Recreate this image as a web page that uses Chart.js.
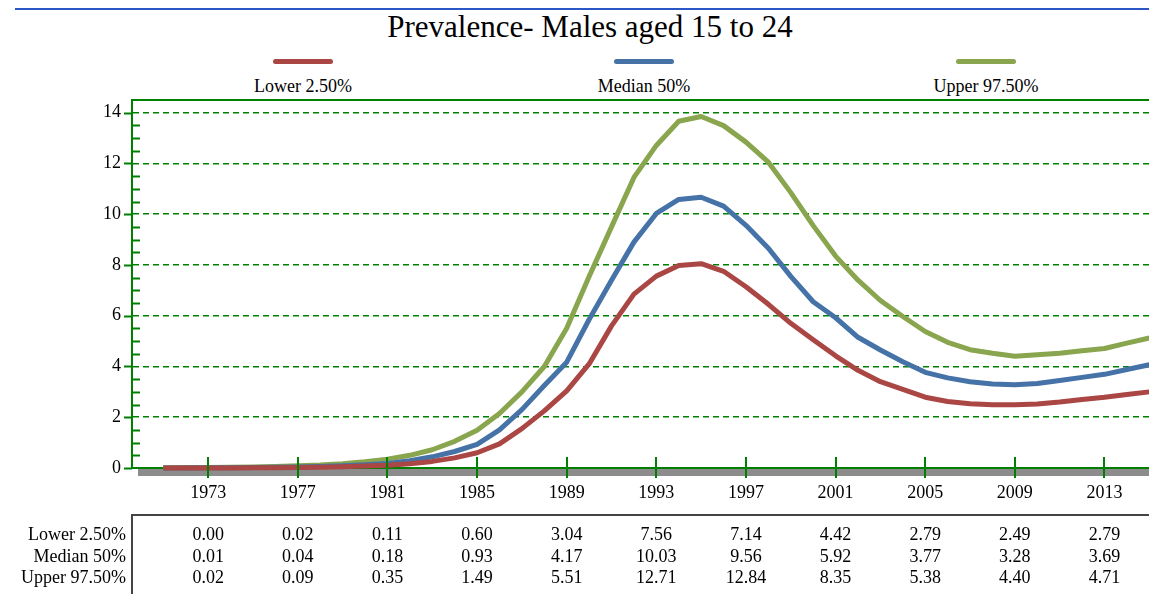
<!DOCTYPE html><html>
<meta charset="UTF-8">
<script src="https://cdn.jsdelivr.net/npm/chart.js@4/dist/chart.umd.min.js"></script>
<style>
html,body{margin:0;padding:0;overflow:hidden;background:#fff;}
#wrap{position:relative;width:1180px;height:594px;font-family:"Liberation Serif",serif;color:#000;}
#wrap canvas{position:absolute;left:0;top:0;}
#topline{position:absolute;left:15px;top:8px;width:1165px;border-top:2px solid #2a56c6;}
#title{position:absolute;left:0;width:1180px;top:10px;text-align:center;font-size:31px;line-height:34px;}
.leg{position:absolute;top:59px;width:200px;text-align:center;font-size:18px;line-height:20px;}
.leg i{display:block;margin:0 auto 12px;width:60px;height:5px;border-radius:3px;}
.cell{position:absolute;font-size:18px;line-height:21px;white-space:nowrap;}
#tbl{position:absolute;left:131px;top:514px;width:1100px;height:100px;border-top:2px solid #444;border-left:2px solid #444;}
</style>
<div id="wrap">
<div id="topline"></div>
<div id="title">Prevalence- Males aged 15 to 24</div>
<div id="legend"></div>
<canvas id="c" width="1180" height="594"></canvas>
<div id="tbl"></div>
</div>
<script>
var years = [];
for (var y = 1971; y <= 2015; y++) years.push(y);
var tickYears = [1973,1977,1981,1985,1989,1993,1997,2001,2005,2009,2013];
var seriesNames = ['Lower 2.50%','Median 50%','Upper 97.50%'];
var seriesColors = ['#AA4643','#4572A7','#89A54E'];

var lower = [0.00,0.00,0.00,0.00,0.01,0.01,0.02,0.03,0.05,0.08,
  0.11,0.17,0.26,0.40,0.60,0.95,1.55,2.25,3.04,4.10,
  5.60,6.85,7.56,7.98,8.05,7.75,7.14,6.45,5.70,5.05,
  4.42,3.85,3.40,3.10,2.79,2.62,2.53,2.49,2.49,2.52,
  2.60,2.70,2.79,2.90,3.00];
var median = [0.00,0.00,0.01,0.01,0.02,0.03,0.04,0.06,0.09,0.13,
  0.18,0.29,0.44,0.65,0.93,1.50,2.30,3.25,4.17,5.85,
  7.40,8.90,10.03,10.58,10.67,10.32,9.56,8.66,7.55,6.55,
  5.92,5.15,4.65,4.19,3.77,3.55,3.40,3.31,3.28,3.33,
  3.45,3.57,3.69,3.88,4.07];
var upper = [0.01,0.02,0.02,0.03,0.04,0.06,0.09,0.12,0.17,0.25,
  0.35,0.50,0.72,1.05,1.49,2.15,3.00,4.00,5.51,7.55,
  9.50,11.45,12.71,13.66,13.85,13.49,12.84,12.05,10.85,9.55,
  8.35,7.40,6.60,5.97,5.38,4.95,4.66,4.52,4.40,4.46,
  4.52,4.62,4.71,4.92,5.12];
var seriesData = [lower, median, upper];

var GREEN = '#008000';
var font = {family: "'Liberation Serif', serif", size: 18};

// legend: line above the label
var legendCenters = [303, 644, 986];
var legEl = document.getElementById('legend');
seriesNames.forEach(function(n, i){
  var d = document.createElement('div');
  d.className = 'leg';
  d.style.left = (legendCenters[i] - 100) + 'px';
  d.innerHTML = '<i style="background:' + seriesColors[i] + '"></i>' + n;
  legEl.appendChild(d);
});

var decor = {
  id: 'decor',
  beforeDatasetsDraw: function(chart){
    var c = chart.ctx, a = chart.chartArea;
    c.save();
    c.fillStyle = '#8c8c8c';
    c.fillRect(a.left + 6, a.bottom + 1, a.right - a.left, 7);
    c.restore();
  },
  afterDraw: function(chart){
    var c = chart.ctx, a = chart.chartArea, ys = chart.scales.y, xs = chart.scales.x;
    c.save();
    c.strokeStyle = GREEN;
    c.lineWidth = 2;
    c.beginPath();
    c.moveTo(a.left - 1, a.top); c.lineTo(a.right, a.top);
    ys.ticks.forEach(function(t){
      var p = Math.round(ys.getPixelForValue(t.value)) + 0.5;
      if (t.value % 2 === 0) { c.moveTo(a.left - 8, p); c.lineTo(a.left, p); }
      else if (t.value < 14.5) { c.moveTo(a.left, p); c.lineTo(a.left + 8, p); }
    });
    tickYears.forEach(function(v){
      var p = Math.round(xs.getPixelForValue(v));
      c.moveTo(p, a.bottom - 11); c.lineTo(p, a.bottom + 10);
    });
    c.stroke();
    c.restore();
  }
};

var chart = new Chart(document.getElementById('c'), {
  type: 'line',
  data: {
    labels: years,
    datasets: seriesNames.map(function(n, i){
      return {
        label: n,
        data: years.map(function(y, k){ return {x: y, y: seriesData[i][k]}; }),
        borderColor: seriesColors[i],
        backgroundColor: seriesColors[i],
        borderWidth: 5,
        pointRadius: 0,
        tension: 0,
        borderJoinStyle: 'round',
        fill: false,
        clip: false
      };
    })
  },
  options: {
    responsive: false,
    animation: false,
    devicePixelRatio: 1,
    layout: {padding: {left: 0, top: 100, right: 15, bottom: 92}},
    plugins: {legend: {display: false}, title: {display: false}, tooltip: {enabled: false}},
    scales: {
      x: {
        type: 'linear', min: 1969.6, max: 2015.7,
        afterBuildTicks: function(s){ s.ticks = tickYears.map(function(v){ return {value: v}; }); },
        afterFit: function(s){ s.height = 34; },
        ticks: {font: font, color: '#000', padding: 14, autoSkip: false, maxRotation: 0,
          callback: function(v){ return String(v); }},
        grid: {display: false, drawTicks: false},
        border: {display: true, color: GREEN, width: 2}
      },
      y: {
        min: 0, max: 14.5,
        afterFit: function(s){ s.width = 132; },
        ticks: {font: font, color: '#000', padding: 11, stepSize: 0.5, autoSkip: false,
          callback: function(v){ return v % 2 === 0 ? String(v) : ''; }},
        grid: {drawTicks: false, lineWidth: 1.6,
          color: function(ctx){ return ctx.tick && ctx.tick.value > 0 && ctx.tick.value % 2 === 0 ? GREEN : 'rgba(0,0,0,0)'; }},
        border: {display: true, color: GREEN, width: 2, dash: [6, 4]}
      }
    }
  },
  plugins: [decor]
});

// table of values under the axis
var wrap = document.getElementById('wrap');
var rowTops = [524, 546, 567];
seriesNames.forEach(function(n, i){
  var d = document.createElement('div');
  d.className = 'cell';
  d.style.top = rowTops[i] + 'px';
  d.style.right = (1180 - 126) + 'px';
  d.textContent = n;
  wrap.appendChild(d);
  tickYears.forEach(function(yr){
    var k = years.indexOf(yr);
    var c = document.createElement('div');
    c.className = 'cell';
    c.style.top = rowTops[i] + 'px';
    c.style.left = (chart.scales.x.getPixelForValue(yr) - 40) + 'px';
    c.style.width = '80px';
    c.style.textAlign = 'center';
    c.textContent = seriesData[i][k].toFixed(2);
    wrap.appendChild(c);
  });
});
</script>
</html>
